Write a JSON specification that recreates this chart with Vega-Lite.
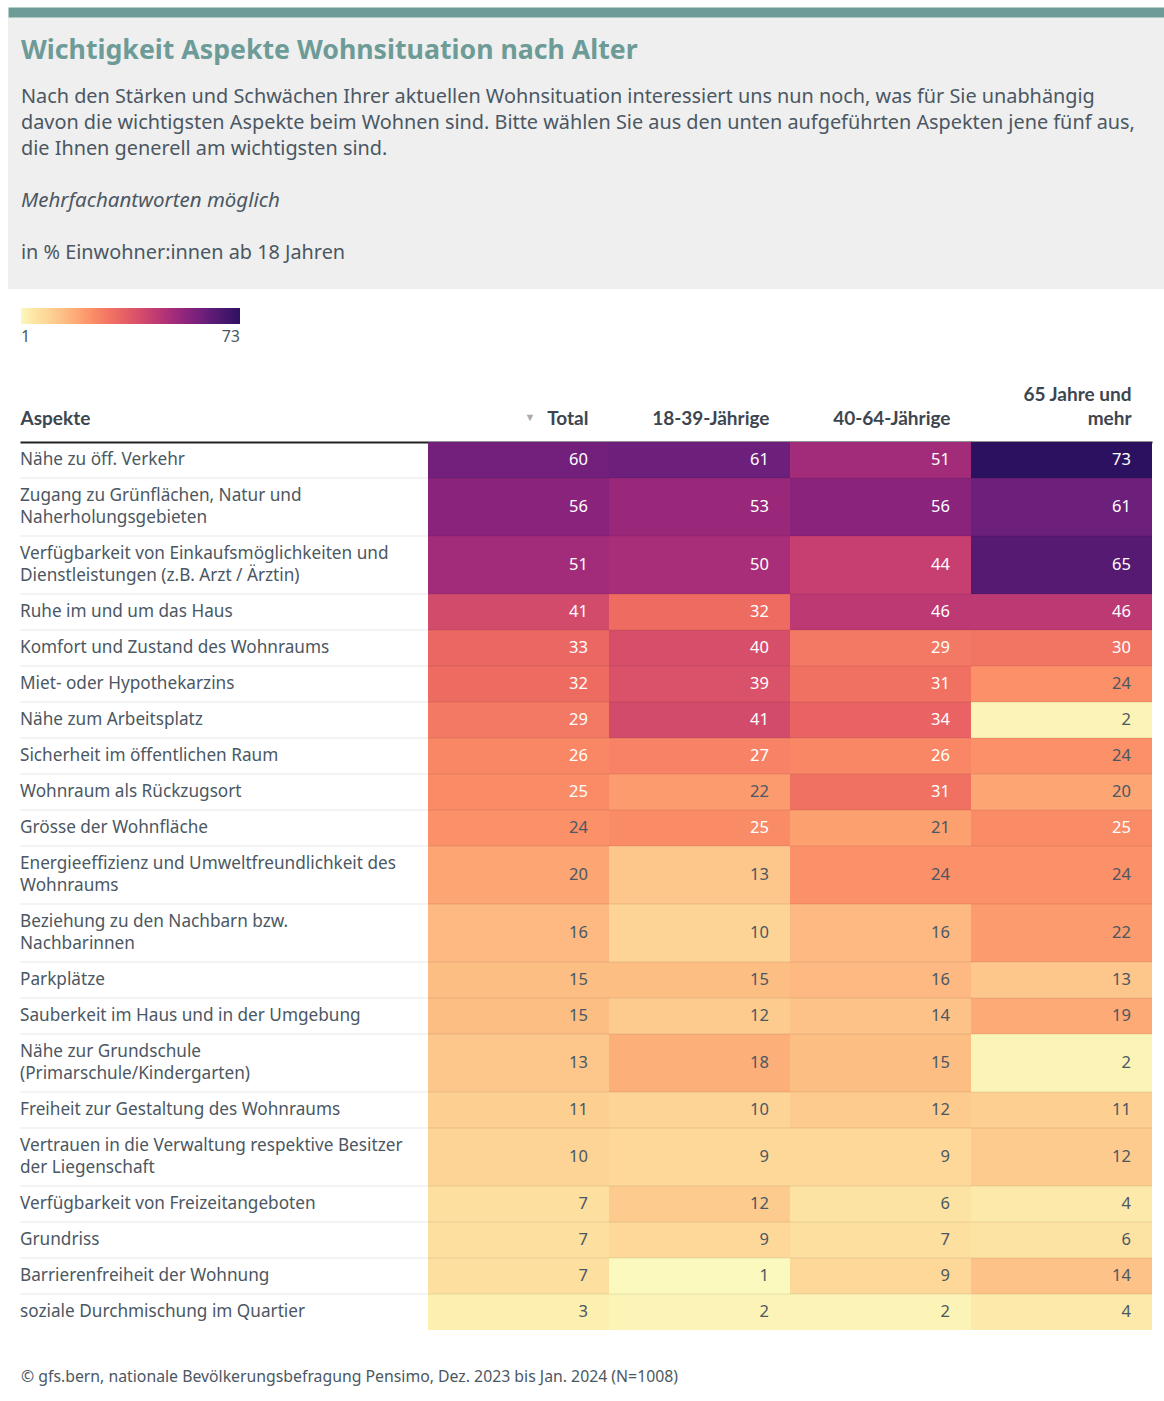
{
  "$schema": "https://vega.github.io/schema/vega-lite/v6.json",
  "padding": {"left": 8, "top": 12, "right": 0, "bottom": 6},
  "background": "white",
  "config": {"font": "Noto Sans", "view": {"stroke": null}},
  "datasets": {
    "kopf": [
      {"art": "titel", "text": "Wichtigkeit Aspekte Wohnsituation nach Alter"},
      {"art": "leer", "text": ""},
      {"art": "text", "text": "Nach den Stärken und Schwächen Ihrer aktuellen Wohnsituation interessiert uns nun noch, was für Sie unabhängig"},
      {"art": "text", "text": "davon die wichtigsten Aspekte beim Wohnen sind. Bitte wählen Sie aus den unten aufgeführten Aspekten jene fünf aus,"},
      {"art": "text", "text": "die Ihnen generell am wichtigsten sind."},
      {"art": "leer", "text": ""},
      {"art": "hinweis", "text": "Mehrfachantworten möglich"},
      {"art": "leer", "text": ""},
      {"art": "einheit", "text": "in % Einwohner:innen ab 18 Jahren"}
    ],
    "zellen": [
      {"aspekt": "Nähe zu öff. Verkehr", "gruppe": "Total", "wert": 60},
      {"aspekt": "Nähe zu öff. Verkehr", "gruppe": "18-39-Jährige", "wert": 61},
      {"aspekt": "Nähe zu öff. Verkehr", "gruppe": "40-64-Jährige", "wert": 51},
      {"aspekt": "Nähe zu öff. Verkehr", "gruppe": "65 Jahre und mehr", "wert": 73},
      {"aspekt": "Zugang zu Grünflächen, Natur und\nNaherholungsgebieten", "gruppe": "Total", "wert": 56},
      {"aspekt": "Zugang zu Grünflächen, Natur und\nNaherholungsgebieten", "gruppe": "18-39-Jährige", "wert": 53},
      {"aspekt": "Zugang zu Grünflächen, Natur und\nNaherholungsgebieten", "gruppe": "40-64-Jährige", "wert": 56},
      {"aspekt": "Zugang zu Grünflächen, Natur und\nNaherholungsgebieten", "gruppe": "65 Jahre und mehr", "wert": 61},
      {"aspekt": "Verfügbarkeit von Einkaufsmöglichkeiten und\nDienstleistungen (z.B. Arzt / Ärztin)", "gruppe": "Total", "wert": 51},
      {"aspekt": "Verfügbarkeit von Einkaufsmöglichkeiten und\nDienstleistungen (z.B. Arzt / Ärztin)", "gruppe": "18-39-Jährige", "wert": 50},
      {"aspekt": "Verfügbarkeit von Einkaufsmöglichkeiten und\nDienstleistungen (z.B. Arzt / Ärztin)", "gruppe": "40-64-Jährige", "wert": 44},
      {"aspekt": "Verfügbarkeit von Einkaufsmöglichkeiten und\nDienstleistungen (z.B. Arzt / Ärztin)", "gruppe": "65 Jahre und mehr", "wert": 65},
      {"aspekt": "Ruhe im und um das Haus", "gruppe": "Total", "wert": 41},
      {"aspekt": "Ruhe im und um das Haus", "gruppe": "18-39-Jährige", "wert": 32},
      {"aspekt": "Ruhe im und um das Haus", "gruppe": "40-64-Jährige", "wert": 46},
      {"aspekt": "Ruhe im und um das Haus", "gruppe": "65 Jahre und mehr", "wert": 46},
      {"aspekt": "Komfort und Zustand des Wohnraums", "gruppe": "Total", "wert": 33},
      {"aspekt": "Komfort und Zustand des Wohnraums", "gruppe": "18-39-Jährige", "wert": 40},
      {"aspekt": "Komfort und Zustand des Wohnraums", "gruppe": "40-64-Jährige", "wert": 29},
      {"aspekt": "Komfort und Zustand des Wohnraums", "gruppe": "65 Jahre und mehr", "wert": 30},
      {"aspekt": "Miet- oder Hypothekarzins", "gruppe": "Total", "wert": 32},
      {"aspekt": "Miet- oder Hypothekarzins", "gruppe": "18-39-Jährige", "wert": 39},
      {"aspekt": "Miet- oder Hypothekarzins", "gruppe": "40-64-Jährige", "wert": 31},
      {"aspekt": "Miet- oder Hypothekarzins", "gruppe": "65 Jahre und mehr", "wert": 24},
      {"aspekt": "Nähe zum Arbeitsplatz", "gruppe": "Total", "wert": 29},
      {"aspekt": "Nähe zum Arbeitsplatz", "gruppe": "18-39-Jährige", "wert": 41},
      {"aspekt": "Nähe zum Arbeitsplatz", "gruppe": "40-64-Jährige", "wert": 34},
      {"aspekt": "Nähe zum Arbeitsplatz", "gruppe": "65 Jahre und mehr", "wert": 2},
      {"aspekt": "Sicherheit im öffentlichen Raum", "gruppe": "Total", "wert": 26},
      {"aspekt": "Sicherheit im öffentlichen Raum", "gruppe": "18-39-Jährige", "wert": 27},
      {"aspekt": "Sicherheit im öffentlichen Raum", "gruppe": "40-64-Jährige", "wert": 26},
      {"aspekt": "Sicherheit im öffentlichen Raum", "gruppe": "65 Jahre und mehr", "wert": 24},
      {"aspekt": "Wohnraum als Rückzugsort", "gruppe": "Total", "wert": 25},
      {"aspekt": "Wohnraum als Rückzugsort", "gruppe": "18-39-Jährige", "wert": 22},
      {"aspekt": "Wohnraum als Rückzugsort", "gruppe": "40-64-Jährige", "wert": 31},
      {"aspekt": "Wohnraum als Rückzugsort", "gruppe": "65 Jahre und mehr", "wert": 20},
      {"aspekt": "Grösse der Wohnfläche", "gruppe": "Total", "wert": 24},
      {"aspekt": "Grösse der Wohnfläche", "gruppe": "18-39-Jährige", "wert": 25},
      {"aspekt": "Grösse der Wohnfläche", "gruppe": "40-64-Jährige", "wert": 21},
      {"aspekt": "Grösse der Wohnfläche", "gruppe": "65 Jahre und mehr", "wert": 25},
      {"aspekt": "Energieeffizienz und Umweltfreundlichkeit des\nWohnraums", "gruppe": "Total", "wert": 20},
      {"aspekt": "Energieeffizienz und Umweltfreundlichkeit des\nWohnraums", "gruppe": "18-39-Jährige", "wert": 13},
      {"aspekt": "Energieeffizienz und Umweltfreundlichkeit des\nWohnraums", "gruppe": "40-64-Jährige", "wert": 24},
      {"aspekt": "Energieeffizienz und Umweltfreundlichkeit des\nWohnraums", "gruppe": "65 Jahre und mehr", "wert": 24},
      {"aspekt": "Beziehung zu den Nachbarn bzw.\nNachbarinnen", "gruppe": "Total", "wert": 16},
      {"aspekt": "Beziehung zu den Nachbarn bzw.\nNachbarinnen", "gruppe": "18-39-Jährige", "wert": 10},
      {"aspekt": "Beziehung zu den Nachbarn bzw.\nNachbarinnen", "gruppe": "40-64-Jährige", "wert": 16},
      {"aspekt": "Beziehung zu den Nachbarn bzw.\nNachbarinnen", "gruppe": "65 Jahre und mehr", "wert": 22},
      {"aspekt": "Parkplätze", "gruppe": "Total", "wert": 15},
      {"aspekt": "Parkplätze", "gruppe": "18-39-Jährige", "wert": 15},
      {"aspekt": "Parkplätze", "gruppe": "40-64-Jährige", "wert": 16},
      {"aspekt": "Parkplätze", "gruppe": "65 Jahre und mehr", "wert": 13},
      {"aspekt": "Sauberkeit im Haus und in der Umgebung", "gruppe": "Total", "wert": 15},
      {"aspekt": "Sauberkeit im Haus und in der Umgebung", "gruppe": "18-39-Jährige", "wert": 12},
      {"aspekt": "Sauberkeit im Haus und in der Umgebung", "gruppe": "40-64-Jährige", "wert": 14},
      {"aspekt": "Sauberkeit im Haus und in der Umgebung", "gruppe": "65 Jahre und mehr", "wert": 19},
      {"aspekt": "Nähe zur Grundschule\n(Primarschule/Kindergarten)", "gruppe": "Total", "wert": 13},
      {"aspekt": "Nähe zur Grundschule\n(Primarschule/Kindergarten)", "gruppe": "18-39-Jährige", "wert": 18},
      {"aspekt": "Nähe zur Grundschule\n(Primarschule/Kindergarten)", "gruppe": "40-64-Jährige", "wert": 15},
      {"aspekt": "Nähe zur Grundschule\n(Primarschule/Kindergarten)", "gruppe": "65 Jahre und mehr", "wert": 2},
      {"aspekt": "Freiheit zur Gestaltung des Wohnraums", "gruppe": "Total", "wert": 11},
      {"aspekt": "Freiheit zur Gestaltung des Wohnraums", "gruppe": "18-39-Jährige", "wert": 10},
      {"aspekt": "Freiheit zur Gestaltung des Wohnraums", "gruppe": "40-64-Jährige", "wert": 12},
      {"aspekt": "Freiheit zur Gestaltung des Wohnraums", "gruppe": "65 Jahre und mehr", "wert": 11},
      {"aspekt": "Vertrauen in die Verwaltung respektive Besitzer\nder Liegenschaft", "gruppe": "Total", "wert": 10},
      {"aspekt": "Vertrauen in die Verwaltung respektive Besitzer\nder Liegenschaft", "gruppe": "18-39-Jährige", "wert": 9},
      {"aspekt": "Vertrauen in die Verwaltung respektive Besitzer\nder Liegenschaft", "gruppe": "40-64-Jährige", "wert": 9},
      {"aspekt": "Vertrauen in die Verwaltung respektive Besitzer\nder Liegenschaft", "gruppe": "65 Jahre und mehr", "wert": 12},
      {"aspekt": "Verfügbarkeit von Freizeitangeboten", "gruppe": "Total", "wert": 7},
      {"aspekt": "Verfügbarkeit von Freizeitangeboten", "gruppe": "18-39-Jährige", "wert": 12},
      {"aspekt": "Verfügbarkeit von Freizeitangeboten", "gruppe": "40-64-Jährige", "wert": 6},
      {"aspekt": "Verfügbarkeit von Freizeitangeboten", "gruppe": "65 Jahre und mehr", "wert": 4},
      {"aspekt": "Grundriss", "gruppe": "Total", "wert": 7},
      {"aspekt": "Grundriss", "gruppe": "18-39-Jährige", "wert": 9},
      {"aspekt": "Grundriss", "gruppe": "40-64-Jährige", "wert": 7},
      {"aspekt": "Grundriss", "gruppe": "65 Jahre und mehr", "wert": 6},
      {"aspekt": "Barrierenfreiheit der Wohnung", "gruppe": "Total", "wert": 7},
      {"aspekt": "Barrierenfreiheit der Wohnung", "gruppe": "18-39-Jährige", "wert": 1},
      {"aspekt": "Barrierenfreiheit der Wohnung", "gruppe": "40-64-Jährige", "wert": 9},
      {"aspekt": "Barrierenfreiheit der Wohnung", "gruppe": "65 Jahre und mehr", "wert": 14},
      {"aspekt": "soziale Durchmischung im Quartier", "gruppe": "Total", "wert": 3},
      {"aspekt": "soziale Durchmischung im Quartier", "gruppe": "18-39-Jährige", "wert": 2},
      {"aspekt": "soziale Durchmischung im Quartier", "gruppe": "40-64-Jährige", "wert": 2},
      {"aspekt": "soziale Durchmischung im Quartier", "gruppe": "65 Jahre und mehr", "wert": 4}
    ]
  },
  "bounds": "flush",
  "center": true,
  "spacing": 153,
  "vconcat": [
    {
      "width": 1156,
      "height": 272,
      "view": {"fill": "#efefef", "stroke": null},
      "data": {"name": "kopf"},
      "transform": [{"window": [{"op": "row_number", "as": "nr"}]}],
      "encoding": {
        "x": {"datum": 0, "type": "quantitative", "scale": {"domain": [0, 1], "nice": false, "zero": false},
              "axis": {"orient": "top", "offset": 5, "domainColor": "#6d9b97", "domainWidth": 10, "labels": false, "ticks": false, "grid": false, "title": null}},
        "y": {"field": "nr", "type": "quantitative", "scale": {"domain": [-0.077, 10.385], "reverse": true, "nice": false, "zero": false}, "axis": null},
        "text": {"field": "text"}
      },
      "layer": [
        {"transform": [{"filter": "datum.art == 'titel'"}],
         "mark": {"type": "text", "align": "left", "baseline": "middle", "dx": 13, "dy": 6, "fontSize": 26.7, "fontWeight": "bold", "color": "#6d9b97"}},
        {"transform": [{"filter": "datum.art == 'text' || datum.art == 'einheit'"}],
         "mark": {"type": "text", "align": "left", "baseline": "middle", "dx": 13, "fontSize": 19.85, "color": "#4b5762"}},
        {"transform": [{"filter": "datum.art == 'hinweis'"}],
         "mark": {"type": "text", "align": "left", "baseline": "middle", "dx": 13, "fontSize": 20.5, "fontStyle": "italic", "color": "#4b5762"}}
      ]
    },
    {
      "width": 1132,
      "height": 888,
      "data": {"name": "zellen"},
      "title": {"text": "© gfs.bern, nationale Bevölkerungsbefragung Pensimo, Dez. 2023 bis Jan. 2024 (N=1008)", "orient": "bottom", "anchor": "start", "frame": "group", "offset": 40, "fontSize": 15.8, "fontWeight": "normal", "color": "#4b5762", "dx": 1},
      "transform": [
        {"calculate": "length(split(datum.aspekt, '\\n'))", "as": "zeilen"},
        {"calculate": "14 + 22 * datum.zeilen", "as": "hoehe"},
        {"window": [{"op": "sum", "field": "hoehe", "as": "kum"}], "frame": [null, 0]},
        {"joinaggregate": [{"op": "max", "field": "kum", "as": "kummax"}], "groupby": ["aspekt"]},
        {"calculate": "datum.kummax / 4", "as": "y1"},
        {"calculate": "datum.y1 - datum.hoehe", "as": "y0"},
        {"calculate": "(datum.y0 + datum.y1) / 2", "as": "ym"},
        {"calculate": "indexof(['Total','18-39-Jährige','40-64-Jährige','65 Jahre und mehr'], datum.gruppe)", "as": "c"},
        {"calculate": "datum.c + 1", "as": "c1"}
      ],
      "layer": [
        {
          "mark": {"type": "rect"},
          "encoding": {
            "x": {"field": "c", "type": "quantitative", "scale": {"domain": [-2.2541, 4], "nice": false, "zero": false},
                  "axis": {"orient": "top", "values": [-2.2541, 0.591, 0.884, 1.884, 2.884, 3.884],
                           "labelExpr": "datum.value < -1 ? ['', 'Aspekte'] : datum.value < 0.7 ? ['', '▼'] : datum.value < 1 ? ['', 'Total'] : datum.value < 2 ? ['', '18-39-Jährige'] : datum.value < 3 ? ['', '40-64-Jährige'] : ['65 Jahre und', 'mehr']",
                           "labelAlign": {"condition": {"test": "datum.value < -1", "value": "left"}, "value": "right"},
                           "labelColor": {"condition": {"test": "datum.value > 0 && datum.value < 0.7", "value": "#aaaaaa"}, "value": "#3d4650"},
                           "labelFontSize": {"condition": {"test": "datum.value > 0 && datum.value < 0.7", "value": 11}, "value": 19},
                           "labelPadding": {"condition": {"test": "datum.value > 0 && datum.value < 0.7", "value": 44}, "value": 38},
                           "labelFont": "Lato", "labelFontWeight": "bold", "labelLineHeight": 24,
                           "labelOverlap": false, "labelFlush": false, "labelBound": false, "labelLimit": 400,
                           "ticks": false, "grid": false, "domainColor": "#222222", "domainWidth": 2, "title": null}},
            "x2": {"field": "c1"},
            "y": {"field": "y0", "type": "quantitative", "scale": {"reverse": true, "nice": false, "zero": true}, "axis": null},
            "y2": {"field": "y1"},
            "color": {"field": "wert", "type": "quantitative",
                      "scale": {"domain": [1, 4, 10, 16, 24, 32, 41, 51, 61, 73],
                                "range": ["#fbf9bd", "#fdeaaa", "#fdd496", "#fdb981", "#fc9068", "#ee6b62", "#d34b6b", "#a32c7a", "#6c1f7b", "#2d1161"]},
                      "legend": {"orient": "none", "legendX": 13, "legendY": 291, "direction": "horizontal", "gradientLength": 219, "gradientThickness": 16,
                                 "title": null, "values": [1, 73], "labelFontSize": 16, "labelOffset": 5, "labelColor": "#4b5762", "gradientStrokeWidth": 0}}
          }
        },
        {
          "transform": [{"filter": "datum.gruppe == 'Total' && datum.y0 > 0"}],
          "mark": {"type": "rule", "color": "#000000", "opacity": 0.09, "strokeWidth": 1},
          "encoding": {"y": {"field": "y0", "type": "quantitative"}}
        },
        {
          "transform": [{"filter": "datum.gruppe == 'Total'"}],
          "mark": {"type": "text", "align": "left", "baseline": "middle", "dy": 18, "lineBreak": "\n", "lineHeight": 22, "fontSize": 17.2, "color": "#4b5762"},
          "encoding": {
            "x": {"datum": -2.2541, "type": "quantitative"},
            "y": {"field": "y0", "type": "quantitative"},
            "text": {"field": "aspekt"}
          }
        },
        {
          "mark": {"type": "text", "align": "right", "baseline": "middle", "dx": -21, "fontSize": 16.5},
          "encoding": {
            "x": {"field": "c1", "type": "quantitative"},
            "y": {"field": "ym", "type": "quantitative"},
            "text": {"field": "wert", "type": "quantitative"},
            "color": {"condition": {"test": "datum.wert >= 25", "value": "#ffffff"}, "value": "#4b5762"}
          }
        }
      ]
    }
  ]
}
